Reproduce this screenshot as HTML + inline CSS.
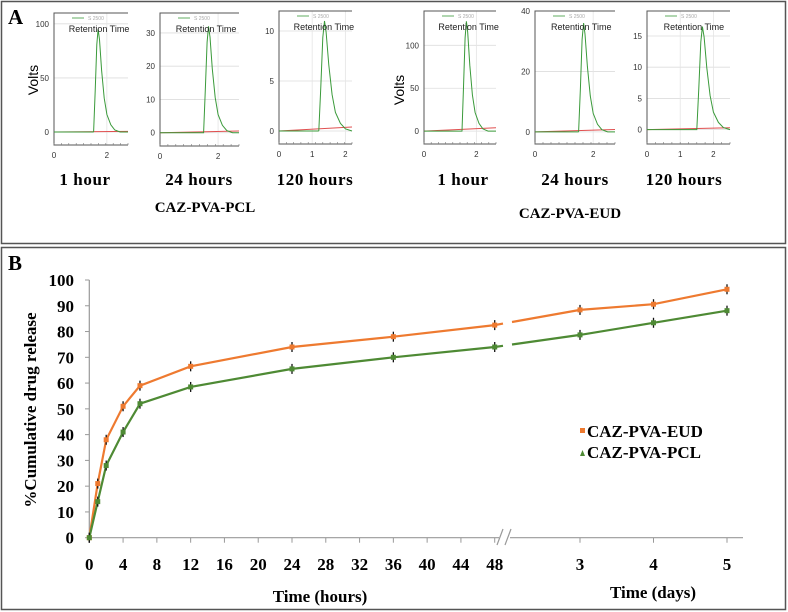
<!DOCTYPE html>
<html><head><meta charset="utf-8"><style>
body{margin:0;background:#fff}
svg{display:block;font-family:"Liberation Serif",serif}
</style></head><body>
<svg id="s" width="788" height="612" viewBox="0 0 788 612" xmlns="http://www.w3.org/2000/svg">
<rect x="1.5" y="1.5" width="784" height="242" fill="none" stroke="#555" stroke-width="1.5"/>
<rect x="1.5" y="247.5" width="784" height="362" fill="none" stroke="#555" stroke-width="1.5"/>
<text x="8" y="24" font-size="21" font-weight="bold">A</text>
<text x="8" y="270" font-size="21" font-weight="bold">B</text>
<g id="pa" font-family="Liberation Sans,sans-serif"></g>
<g font-size="17" font-weight="bold" text-anchor="middle" letter-spacing="0.6">
<text x="85" y="185">1 hour</text>
<text x="199" y="185">24 hours</text>
<text x="315" y="185">120 hours</text>
<text x="463" y="185">1 hour</text>
<text x="575" y="185">24 hours</text>
<text x="684" y="185">120 hours</text>
</g>
<text x="205" y="212" font-size="15" font-weight="bold" text-anchor="middle">CAZ-PVA-PCL</text>
<text x="570" y="218" font-size="15" font-weight="bold" text-anchor="middle">CAZ-PVA-EUD</text>
<text transform="translate(38,80) rotate(-90)" font-family="Liberation Sans,sans-serif" font-size="14" text-anchor="middle">Volts</text>
<text transform="translate(404,90) rotate(-90)" font-family="Liberation Sans,sans-serif" font-size="14" text-anchor="middle">Volts</text>
<g id="pb"></g>
</svg>
<script>
var NS="http://www.w3.org/2000/svg";
function mk(p,t,a){var e=document.createElementNS(NS,t);for(var k in a)e.setAttribute(k,a[k]);p.appendChild(e);return e;}
// ---- Panel A data ----
var chromNames=["pcl-1h","pcl-24h","pcl-120h","eud-1h","eud-24h","eud-120h"];
var chromYTicks=[[0,50,100],[0,10,20,30],[0,5,10],[0,50,100],[0,20,40],[0,5,10,15]];
var chromXTicks=[[0,2],[0,2],[0,1,2],[0,2],[0,2],[0,1,2]];
var chromXMax=[2.8,2.72,2.2,2.75,2.75,2.5];
var chromYMin=[-12,-4,-1.3,-15,-4,-2.3];
var chromYMax=[110,36,12,140,40,19];
var peakStart=[1.5,1.5,1.2,1.45,1.5,1.5];
var peakHeight=[95,32,11,128,36,16.5];
var baseEnd=[0.6,0.5,0.4,4,0.8,0.3];
var shapeT=[0,0.06,0.12,0.17,0.22,0.3,0.4,0.5,0.65,0.8,1.0,1.4];
var shapeF=[0,0.4,0.85,1,0.9,0.6,0.33,0.17,0.07,0.02,0,0];
var boxes=[[54,13,128,145],[160,13,239,146],[279,11,352,144],[424,11,496,144],[535,11,615,144],[647,11,730,144]];
var pa=document.getElementById('pa');
chromNames.forEach(function(n,i){
  var b=boxes[i],x0=b[0],y0=b[1],x1=b[2],y1=b[3];
  var g=mk(pa,'g',{});
  
  
  var sx=function(v){return x0+v/chromXMax[i]*(x1-x0);};
  var sy=function(v){return y1-(v-chromYMin[i])/(chromYMax[i]-chromYMin[i])*(y1-y0);};
  chromYTicks[i].forEach(function(t){
    var gl=mk(g,'line',{x1:x0,x2:x1,y1:sy(t),y2:sy(t),stroke:'#ddd','stroke-width':0.8});
    
    var tl=mk(g,'text',{x:x0-5,y:sy(t)+3,'font-size':8,'text-anchor':'end',fill:'#333'});tl.textContent=t;
    
  });
  chromXTicks[i].forEach(function(t){
    var tl=mk(g,'text',{x:sx(t),y:y1+13,'font-size':8,'text-anchor':'middle',fill:'#333'});tl.textContent=t;
    
    mk(g,'line',{x1:sx(t),x2:sx(t),y1:y0,y2:y1,stroke:'#e4e4e4','stroke-width':0.8});
  });
  mk(g,'path',{d:'M'+x1+' '+y0+'H'+x0+'V'+y1+'H'+x1,fill:'none',stroke:'#555','stroke-width':1});
  for(var k=0;k<=10;k++){var xx=x0+k*(x1-x0)/10;mk(g,'line',{x1:xx,x2:xx,y1:y1,y2:y1-2,stroke:'#777','stroke-width':0.6});}
  var red=mk(g,'line',{x1:x0,y1:sy(0),x2:x1,y2:sy(baseEnd[i]),stroke:'#e05050','stroke-width':1});
  
  var d='M'+x0+' '+sy(0)+' L'+sx(peakStart[i])+' '+sy(0);
  for(var j=0;j<shapeT.length;j++){var t=Math.min(peakStart[i]+shapeT[j],chromXMax[i]);d+=' L'+sx(t).toFixed(1)+' '+sy(peakHeight[i]*shapeF[j]).toFixed(1);}
  var pk=mk(g,'path',{d:d,fill:'none',stroke:'#3a9a3a','stroke-width':1});
  
  mk(g,'line',{x1:x0+18,x2:x0+30,y1:y0+5,y2:y0+5,stroke:'#3a9a3a','stroke-width':0.8});
  var lg=mk(g,'text',{x:x0+34,y:y0+7,'font-size':5,fill:'#aaa'});lg.textContent='S 2500';
  
  var rt=mk(g,'text',{x:x0+(x1-x0)*0.2,y:y0+19,'font-size':9,fill:'#222'});rt.textContent='Retention Time';
  
});
// ---- Panel B data ----
var hoursX=[0,1,2,4,6,12,24,36,48];
var eudHours=[0,21,38,51,59,66.5,74,78,82.5];
var pclHours=[0,14,28,41,52,58.5,65.5,70,74];
var daysX=[3,4,5];
var eudDays=[88.4,90.6,96.4];
var pclDays=[78.7,83.4,88.1];
var yTicks=[0,10,20,30,40,50,60,70,80,90,100];
var hourTicks=[0,4,8,12,16,20,24,28,32,36,40,44,48];
var dayTicks=[3,4,5];
var pb=document.getElementById('pb');
var Y0=537.7,YS=2.577;
function sy(v){return Y0-v*YS;}
function sxh(h){return 89.3+h*8.446;}
function sxd(d){return 580+(d-3)*73.5;}
mk(pb,'line',{x1:89.3,x2:89.3,y1:280,y2:Y0,stroke:'#999','stroke-width':1.2});
yTicks.forEach(function(t){
  mk(pb,'line',{x1:85,x2:89.3,y1:sy(t),y2:sy(t),stroke:'#999','stroke-width':1});
  var e=mk(pb,'text',{x:74,y:sy(t)+6,'font-size':17,'font-weight':'bold','text-anchor':'end'});e.textContent=t;
  
});
mk(pb,'line',{x1:89.3,x2:499,y1:Y0,y2:Y0,stroke:'#999','stroke-width':1.2});
mk(pb,'line',{x1:510,x2:743,y1:Y0,y2:Y0,stroke:'#999','stroke-width':1.2});
mk(pb,'path',{d:'M497 545 L503 529 M505 545 L511 529',stroke:'#999','stroke-width':1.2,fill:'none'});
hourTicks.forEach(function(t){
  mk(pb,'line',{x1:sxh(t),x2:sxh(t),y1:Y0,y2:Y0+5,stroke:'#999','stroke-width':1});
  var e=mk(pb,'text',{x:sxh(t),y:570,'font-size':17,'font-weight':'bold','text-anchor':'middle'});e.textContent=t;
  
});
dayTicks.forEach(function(t){
  mk(pb,'line',{x1:sxd(t),x2:sxd(t),y1:Y0,y2:Y0+5,stroke:'#999','stroke-width':1});
  var e=mk(pb,'text',{x:sxd(t),y:570,'font-size':17,'font-weight':'bold','text-anchor':'middle'});e.textContent=t;
  
});
var t1=mk(pb,'text',{x:320,y:602,'font-size':17,'font-weight':'bold','text-anchor':'middle'});t1.textContent='Time (hours)';

var t2=mk(pb,'text',{x:653,y:598,'font-size':17,'font-weight':'bold','text-anchor':'middle'});t2.textContent='Time (days)';

var t3=mk(pb,'text',{transform:'translate(36,410) rotate(-90)','font-size':17,'font-weight':'bold','text-anchor':'middle'});t3.textContent='%Cumulative drug release';

function series(name,hv,dv,col){
  var g=mk(pb,'g',{});
  
  var pts=hoursX.map(function(h,i){return [sxh(h),sy(hv[i])];});
  var dp=daysX.map(function(d,i){return [sxd(d),sy(dv[i])];});
  var last=pts[pts.length-1],f=dp[0];
  var fr=function(x){return last[1]+(f[1]-last[1])*(x-last[0])/(f[0]-last[0]);};
  var d1='M'+pts.map(function(p){return p[0].toFixed(1)+' '+p[1].toFixed(1);}).join(' L')+' L503 '+fr(503).toFixed(1);
  var d2='M512 '+fr(512).toFixed(1)+' L'+dp.map(function(p){return p[0].toFixed(1)+' '+p[1].toFixed(1);}).join(' L');
  mk(g,'path',{d:d1,fill:'none',stroke:col,'stroke-width':2.2});
  mk(g,'path',{d:d2,fill:'none',stroke:col,'stroke-width':2.2});
  pts.concat(dp).forEach(function(p){
    var eb=mk(g,'line',{x1:p[0],x2:p[0],y1:p[1]-5,y2:p[1]+5,stroke:'#111','stroke-width':1.3});
    
    var m=mk(g,'rect',{x:p[0]-2.5,y:p[1]-2.5,width:5,height:5,fill:col});
    
  });
}
series('eud',eudHours,eudDays,'#ee7a30');
series('pcl',pclHours,pclDays,'#4e8a34');
var l1=mk(pb,'g',{});
mk(l1,'rect',{x:580,y:428,width:5,height:5,fill:'#ee7a30'});
var a=mk(l1,'text',{x:587,y:437,'font-size':17,'font-weight':'bold'});a.textContent='CAZ-PVA-EUD';
var l2=mk(pb,'g',{});
mk(l2,'path',{d:'M580 456 L582.5 450 L585 456Z',fill:'#4e8a34'});
var b2=mk(l2,'text',{x:587,y:458,'font-size':17,'font-weight':'bold'});b2.textContent='CAZ-PVA-PCL';
</script>
</body></html>
